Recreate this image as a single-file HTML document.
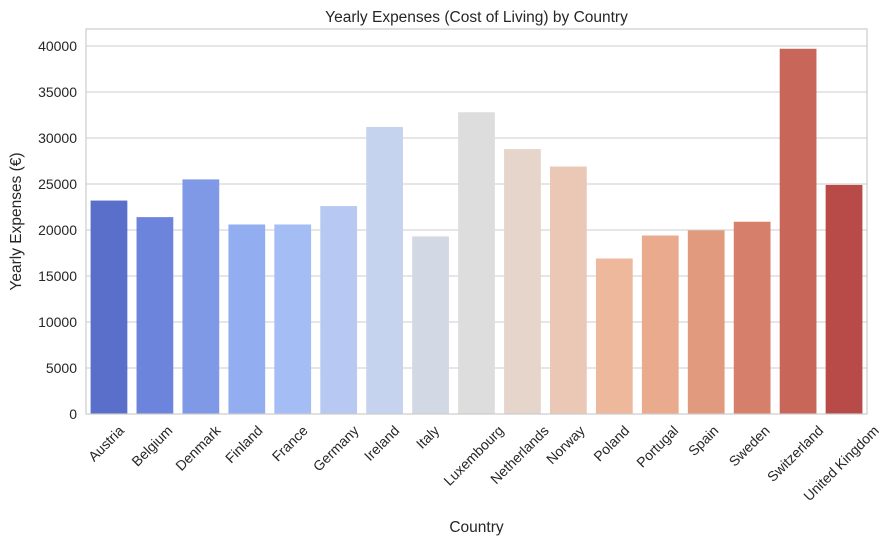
<!DOCTYPE html>
<html><head><meta charset="utf-8"><style>
body{margin:0;background:#fff;font-family:"Liberation Sans","DejaVu Sans",sans-serif;}
svg text{font-family:"Liberation Sans","DejaVu Sans",sans-serif;fill:#262626;}
</style></head><body>
<svg id="chart" width="891" height="545" viewBox="0 0 891 545"></svg>
<script>
const categories=["Austria","Belgium","Denmark","Finland","France","Germany","Ireland","Italy","Luxembourg","Netherlands","Norway","Poland","Portugal","Spain","Sweden","Switzerland","United Kingdom"];
const values=[23200,21400,25500,20600,20600,22600,31200,19300,32800,28800,26900,16900,19400,19950,20900,39700,24900];
const colors=["#5a6fc9","#6c84dc","#7f99e6","#93aef0","#a4bdf5","#b7c9f2","#c5d3ee","#d2d9e4","#dddddd","#e6d5cb","#ebc8b6","#edb89c","#e9aa8e","#e29a7e","#d67f6b","#c9665a","#b84a48"];
const yTicks=[0,5000,10000,15000,20000,25000,30000,35000,40000];
const svg=document.getElementById('chart');
const NS="http://www.w3.org/2000/svg";
const L=86,R=867,T=29,B=414,yMax=40000,yPx=368;
const y=v=>B-v/yMax*yPx;
const band=(R-L)/categories.length;
const x=i=>L+band*i+band/2;
function mk(tag,attrs,parent){const e=document.createElementNS(NS,tag);for(const k in attrs)e.setAttribute(k,attrs[k]);(parent||svg).appendChild(e);return e;}
yTicks.forEach(t=>{
  const g=mk('line',{x1:L,x2:R,y1:y(t),y2:y(t),stroke:'#cccccc','stroke-width':1});
  
  
  const tx=mk('text',{x:L-9,y:y(t)+5,'text-anchor':'end','font-size':14});
  tx.textContent=t;
  
  
});
categories.forEach((c,i)=>{
  const w=band*0.8;
  const r=mk('rect',{x:x(i)-w/2,y:y(values[i]),width:w,height:B-y(values[i]),fill:colors[i]});
  
  
  const tx=mk('text',{x:0,y:5,'text-anchor':'middle','font-size':14});
  tx.textContent=c;
  
  
  const len=tx.getComputedTextLength();
  const half=(len*0.7071+14*0.7071)/2;
  tx.setAttribute('transform',`translate(${x(i)-3},${B+9+half}) rotate(-45)`);
});
const fr=mk('rect',{x:L,y:T,width:R-L,height:B-T,fill:'none',stroke:'#cccccc','stroke-width':1.2});


const ti=mk('text',{x:(L+R)/2,y:22,'text-anchor':'middle','font-size':15.5});
ti.textContent='Yearly Expenses (Cost of Living) by Country';


const xt=mk('text',{x:(L+R)/2,y:532,'text-anchor':'middle','font-size':15.5});
xt.textContent='Country';


const yt=mk('text',{x:0,y:0,'text-anchor':'middle','font-size':15.5,transform:`translate(21,${(T+B)/2}) rotate(-90)`});
yt.textContent='Yearly Expenses (€)';


</script>
</body></html>
